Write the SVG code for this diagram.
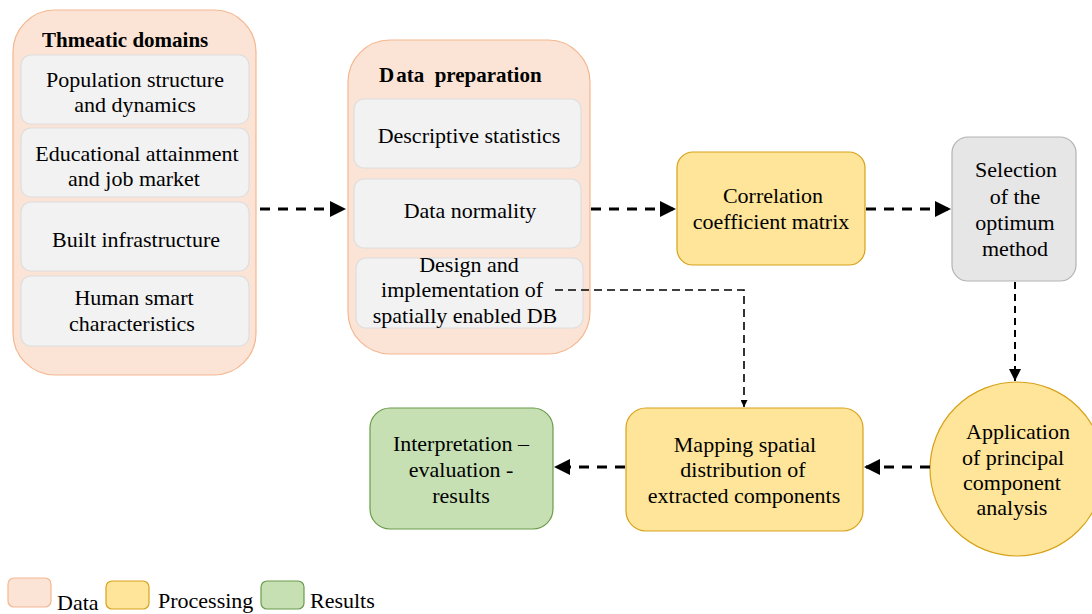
<svg xmlns="http://www.w3.org/2000/svg" width="1092" height="614" viewBox="0 0 1092 614">
<defs>
<style>
text{font-family:'Liberation Serif','Times New Roman',serif;font-size:22px;fill:#000;text-anchor:middle}
.title{font-weight:bold;font-size:21px;text-anchor:start;white-space:pre}
.data{fill:#fbe4d6;stroke:#f4b78f;stroke-width:1.2}
.inner{fill:#f2f2f2;stroke:#dedede;stroke-width:1.2}
.proc{fill:#ffe599;stroke:#d6a21a;stroke-width:1.2}
.res{fill:#c6e0b4;stroke:#6b9b4a;stroke-width:1.2}
.gray{fill:#e6e6e6;stroke:#b3b3b3;stroke-width:1.2}
.thick{fill:none;stroke:#000;stroke-width:3;stroke-dasharray:10 8}
.thin{fill:none;stroke:#000;stroke-width:2;stroke-dasharray:7 5}
.thinner{fill:none;stroke:#000;stroke-width:1.6;stroke-dasharray:8 5}
.leg{text-anchor:start;font-size:22px}
</style>
<marker id="ah" viewBox="0 0 10 10" refX="10" refY="5" markerWidth="7" markerHeight="7" orient="auto" markerUnits="userSpaceOnUse">
<path d="M0,0 L10,5 L0,10 z" fill="#000"/>
</marker>
<marker id="ahb" viewBox="0 0 10 10" refX="10" refY="5" markerWidth="16" markerHeight="16" orient="auto" markerUnits="userSpaceOnUse">
<path d="M0,0 L10,5 L0,10 z" fill="#000"/>
</marker>
<marker id="ahm" viewBox="0 0 10 10" refX="10" refY="5" markerWidth="12" markerHeight="12" orient="auto" markerUnits="userSpaceOnUse">
<path d="M0,0 L10,5 L0,10 z" fill="#000"/>
</marker>
</defs>

<g id="thematic">
<rect class="data" x="13" y="10" width="243" height="365" rx="42"/>
<text class="title" x="42" y="47">Thmeatic domains</text>
<rect class="inner" x="21" y="55" width="228" height="69" rx="10"/>
<text x="135" y="87">Population structure</text>
<text x="135" y="112">and dynamics</text>
<rect class="inner" x="21" y="128" width="228" height="69" rx="10"/>
<text x="137" y="161">Educational attainment</text>
<text x="134" y="186">and job market</text>
<rect class="inner" x="21" y="202" width="228" height="69" rx="10"/>
<text x="136" y="247">Built infrastructure</text>
<rect class="inner" x="21" y="276" width="228" height="70" rx="10"/>
<text x="134" y="305">Human smart</text>
<text x="132" y="331">characteristics</text>
</g>

<g id="dataprep">
<rect class="data" x="348" y="40" width="242" height="314" rx="42"/>
<text class="title" x="379" y="82" xml:space="preserve">D<tspan dx="2">ata  preparation</tspan></text>
<rect class="inner" x="354" y="99" width="227" height="69" rx="10"/>
<text x="469" y="143">Descriptive statistics</text>
<rect class="inner" x="354" y="179" width="227" height="69" rx="10"/>
<text x="470" y="218">Data normality</text>
<rect class="inner" x="356" y="258" width="227" height="70" rx="10"/>
<text x="469" y="272">Design and</text>
<text x="462" y="297">implementation of</text>
<text x="465" y="323">spatially enabled DB</text>
</g>

<g id="correlation">
<rect class="proc" x="677" y="152" width="188" height="113" rx="16"/>
<text x="773" y="203">Correlation</text>
<text x="771" y="229">coefficient matrix</text>
</g>

<g id="selection">
<rect class="gray" x="952" y="137" width="124" height="144" rx="16"/>
<text x="1016" y="177">Selection</text>
<text x="1015" y="204">of the</text>
<text x="1015" y="230">optimum</text>
<text x="1015" y="256">method</text>
</g>

<g id="pca">
<circle class="proc" cx="1017" cy="469" r="87"/>
<text x="1018" y="439">Application</text>
<text x="1013" y="465">of principal</text>
<text x="1012" y="490">component</text>
<text x="1012" y="515">analysis</text>
</g>

<g id="mapping">
<rect class="proc" x="626" y="408" width="237" height="123" rx="20"/>
<text x="745" y="452">Mapping spatial</text>
<text x="743" y="477">distribution of</text>
<text x="744" y="503">extracted components</text>
</g>

<g id="results">
<rect class="res" x="370" y="408" width="183" height="121" rx="20"/>
<text x="461" y="451">Interpretation –</text>
<text x="461" y="477">evaluation -</text>
<text x="461" y="503">results</text>
</g>

<g id="connectors">
<path class="thick" d="M260,209 H346" marker-end="url(#ahb)"/>
<path class="thick" d="M591,209 H676" marker-end="url(#ahb)"/>
<path class="thick" d="M866,209 H951" marker-end="url(#ahb)"/>
<path class="thin" d="M1015,282 V381" marker-end="url(#ahm)"/>
<path class="thick" d="M930,467 H864" marker-end="url(#ahb)"/>
<path class="thick" d="M625,467 H554" marker-end="url(#ahb)"/>
<path class="thinner" d="M555,290 H744 V407" marker-end="url(#ah)"/>
</g>

<g id="legend">
<rect class="data" x="8" y="578" width="43" height="29" rx="6"/>
<text class="leg" x="57" y="610">Data</text>
<rect class="proc" x="106" y="581" width="43" height="28" rx="6"/>
<text class="leg" x="158" y="608">Processing</text>
<rect class="res" x="261" y="581" width="43" height="28" rx="6"/>
<text class="leg" x="310" y="608">Results</text>
</g>
</svg>
